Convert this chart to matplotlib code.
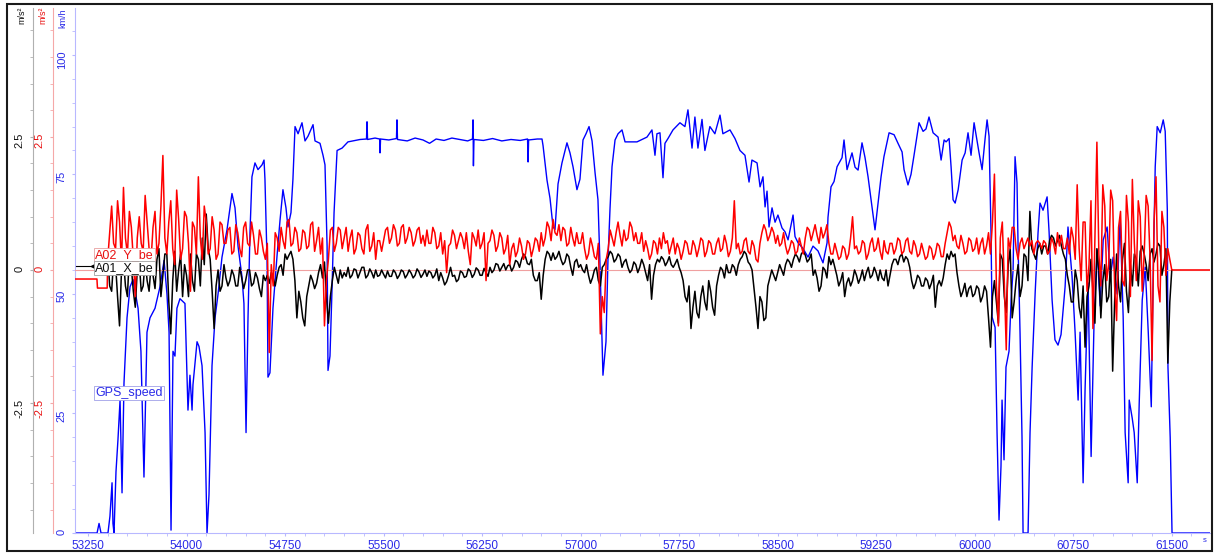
import numpy as np
import matplotlib
matplotlib.use("Agg")
import matplotlib.pyplot as plt
from matplotlib.ticker import MultipleLocator
from matplotlib.patches import Rectangle
from matplotlib.lines import Line2D

plt.rcParams['font.family'] = ['Liberation Sans', 'DejaVu Sans']

# GPS speed (km/h), time in s
gps_t = [
    53151, 53319, 53334, 53349, 53402, 53417, 53433, 53440, 53448, 53463,
    53478, 53494, 53509, 53524, 53547, 53570, 53593, 53631, 53653, 53676,
    53699, 53722, 53760, 53798, 53829, 53851, 53867, 53882, 53897, 53912,
    53927, 53950, 53988, 54011, 54026, 54042, 54049, 54080, 54095, 54118,
    54141, 54156, 54171, 54194, 54217, 54240, 54270, 54308, 54331, 54346,
    54369, 54392, 54422, 54437, 54453, 54468, 54483, 54498, 54521, 54544,
    54575, 54590, 54597, 54613, 54620, 54635, 54658, 54689, 54712, 54734,
    54757, 54772, 54795, 54810, 54826, 54849, 54879, 54902, 54925, 54963,
    54978, 55016, 55039, 55054, 55070, 55077, 55092, 55108, 55123, 55146,
    55184, 55229, 55321, 55370, 55374, 55378, 55435, 55470, 55473, 55477,
    55540, 55598, 55602, 55606, 55680, 55740, 55800, 55850, 55900, 55960,
    56020, 56080, 56140, 56177, 56181, 56184, 56188, 56260, 56330, 56400,
    56470, 56540, 56596, 56600, 56604, 56670, 56706, 56714, 56744, 56767,
    56790, 56805, 56828, 56858, 56896, 56919, 56942, 56972, 56995, 57018,
    57041, 57064, 57087, 57110, 57132, 57148, 57163, 57170, 57193, 57208,
    57224, 57239, 57262, 57285, 57315, 57338, 57429, 57505, 57543, 57566,
    57581, 57604, 57627, 57642, 57665, 57703, 57756, 57794, 57817, 57848,
    57870, 57893, 57924, 57946, 57984, 58022, 58061, 58083, 58137, 58175,
    58213, 58251, 58282, 58304, 58343, 58366, 58388, 58404, 58419, 58434,
    58457, 58480, 58502, 58533, 58556, 58579, 58617, 58632, 58655, 58693,
    58731, 58769, 58807, 58845, 58876, 58883, 58906, 58929, 58952, 58990,
    59005, 59028, 59066, 59089, 59112, 59142, 59165, 59188, 59218, 59241,
    59256, 59287, 59309, 59348, 59386, 59416, 59447, 59462, 59492, 59515,
    59538, 59576, 59607, 59629, 59652, 59683, 59721, 59744, 59767, 59782,
    59805, 59820, 59835, 59851, 59874, 59904, 59927, 59949, 59972, 59995,
    60018, 60033, 60056, 60079, 60094, 60109, 60124, 60132, 60155, 60170,
    60185, 60200, 60208, 60223, 60238, 60261, 60277, 60292, 60307, 60322,
    60330, 60345, 60360, 60368, 60406, 60421, 60437, 60460, 60482, 60497,
    60520, 60551, 60566, 60589, 60611, 60634, 60657, 60688, 60710, 60741,
    60764, 60787, 60802, 60825, 60840, 60863, 60886, 60909, 60932, 60955,
    60978, 61008, 61031, 61054, 61084, 61107, 61130, 61145, 61168, 61176,
    61199, 61214, 61237, 61252, 61275, 61298, 61321, 61344, 61359, 61374,
    61389, 61412, 61435, 61450, 61466, 61471, 61488, 61502, 61791,
]
gps_v = [
    0, 0, 2, 0, 0, 3.5, 10.5, 2, 0, 12.8,
    19.5, 27.8, 8.4, 31.4, 45, 51.5, 53, 47, 38, 11.7,
    42, 45, 47, 51.5, 57, 50, 42, 0.6, 38, 37,
    47, 49, 48, 25.7, 33, 25.7, 31, 40, 39, 35,
    21, 0, 8, 35, 45, 50, 57.7, 63.4, 68, 71,
    68, 60, 53.6, 48, 21, 45, 62.8, 74.5, 77.4, 76,
    77, 78, 74, 57, 32.6, 33.5, 47, 58, 65.5, 71.8,
    68, 64, 67, 74, 85, 83.5, 85.8, 82, 83, 85.4,
    82, 81.5, 79, 77, 60, 34, 37, 51.5, 67, 80,
    80.5, 81.8, 82.3, 82.4, 86, 82.3, 82.6, 82.4, 79.5, 82.4,
    82.2, 82.5, 86.4, 82.3, 82.0, 82.6, 82.2, 81.5, 82.4, 82.1,
    82.6, 82.3, 82.0, 82.4, 86.4, 76.8, 82.3, 82.1, 82.5, 82.0,
    82.3, 82.1, 82.4, 77.6, 82.2, 82.4, 82.4, 81, 73.8, 70,
    64, 63.5, 73, 77.4, 81.6, 79.5, 76.6, 71.8, 74, 82.2,
    83.5, 85, 82, 75.3, 69.7, 55.6, 40.4, 33, 40, 57,
    68, 76.6, 82.2, 83.5, 84.3, 81.8, 81.8, 82.8, 84.3, 79,
    83.5, 83.7, 74.3, 81.5, 82.5, 84.3, 85.8, 85, 88.5, 80.5,
    87, 80.5, 86.5, 80, 85, 83.5, 87.4, 83.5, 84.3, 82.5,
    80, 79, 73.4, 78, 77.4, 72.4, 74.5, 68.2, 71.5, 64,
    68, 65, 66.5, 63.8, 63, 61.3, 66.5, 62, 60.7, 59.5,
    57.7, 60, 59, 56.5, 60.7, 66, 72.4, 73.5, 76.6, 78.5,
    82.2, 76, 79.5, 76.5, 75.9, 81.6, 78.5, 74.5, 68.2, 63.4,
    67, 74.5, 78.7, 83.7, 83.3, 81.5, 79.7, 76, 72.8, 75,
    79, 85.8, 84, 84.5, 87, 83.7, 82.8, 78, 82.2, 81.8,
    82.5, 76.6, 69.7, 69, 71.8, 78, 79.5, 83.7, 79, 85.8,
    82, 79.5, 76, 82.5, 86.4, 83, 62.8, 45.2, 43, 20.9,
    2.7, 14, 27.8, 15.3, 34.7, 38, 48.7, 55, 78.7, 73.2,
    60, 41.8, 20, 0, 0, 21, 34.7, 50.2, 62.8, 69,
    67.5, 70.3, 63, 48.7, 40.4, 39.3, 41.5, 51.5, 64, 53.6,
    42, 27.8, 42, 10.5, 30, 52.3, 16, 45, 59.2, 47.5,
    61.3, 64, 53.6, 57.7, 50, 66, 45.2, 21, 10.5, 27.8,
    24, 21, 10.5, 27, 48.7, 55.6, 42, 26.4, 55, 76.6,
    85, 83.7, 86.4, 84, 67.6, 34.7, 20, 0, 0,
]

# accelerometer channels (m/s2): samples every 30 s from 53400 s to 61500 s,
# plus the in-between samples 15 s later
acc_start, acc_step = 53400, 30
a02_y_be = [
    0.2, 1.2, 0.4, 0.9, 1.55, 0.3, 0.8, -0.5, 1.0, 0.35,
    0.9, 0.2, 1.1, 0.5, 2.15, 0.3, 1.3, 0.1, 0.95, 0.4,
    1.0, -0.4, 0.8, 1.75, 0.2, 0.9, 0.4, 0.75, 0.3, 0.85,
    0.5, 0.8, 0.35, 0.7, 0.25, 0.9, 0.45, 0.65, 0.3, 0.6,
    0.2, -1.55, -0.3, 0.6, 0.8, 0.4, 0.95, 0.5, 0.7, 0.4,
    0.7, 0.45, 0.9, 0.55, 0.3, -1.05, 0.2, 0.8, 0.5, 0.75,
    0.6, 0.35, 0.75, 0.4, 0.65, 0.3, 0.85, 0.45, 0.2, 0.55,
    0.55, 0.8, 0.6, 0.75, 0.5, 0.85, 0.6, 0.7, 0.55, 0.8,
    0.65, 0.75, 0.5, 0.7, 0.45, 0.3, -0.05, 0.5, 0.65, 0.55,
    0.6, 0.7, 0.1, 0.6, 0.75, 0.5, -0.2, 0.55, 0.65, 0.45,
    0.6, 0.4, 0.1, 0.5, 0.35, 0.45, 0.3, 0.5, 0.4, 0.55,
    0.7, 0.6, 0.8, 0.95, 0.65, 0.55, 0.75, 0.5, 0.6, 0.7,
    0.5, 0.4, 0.3, 0.45, 0.2, -1.2, -0.8, 0.4, 0.6, 0.7,
    0.65, 0.75, 0.6, 0.8, 0.7, 0.5, 0.35, 0.4, 0.3, 0.5,
    0.6, 0.7, 0.55, 0.45, 0.3, 0.4, 0.35, 0.5, 0.3, 0.45,
    0.4, 0.55, 0.35, 0.5, 0.3, 0.6, 0.4, 0.5, 0.35, 1.3,
    0.5, 0.35, 0.6, 0.3, 0.45, 0.15, 0.7, 0.75, 0.65, 0.7,
    0.65, 0.5, 0.45, 0.4, 0.5, 0.35, 0.45, 0.6, 0.75, 0.7,
    0.65, 0.8, 0.7, 0.5, 0.3, 0.35, 0.25, 0.4, 0.3, 1.0,
    0.45, 0.35, 0.5, 0.3, 0.6, 0.4, 0.35, 0.55, 0.3, 0.5,
    0.4, 0.55, 0.35, 0.6, 0.3, 0.45, 0.3, 0.35, 0.25, 0.4,
    0.3, 0.45, 0.25, 0.7, 0.8, 0.65, 0.4, 0.5, 0.35, 0.55,
    0.4, 0.3, 0.6, 0.45, 0.3, 1.8, -1.05, 0.9, -1.5, 0.4,
    0.8, 0.2, 0.6, 0.5, 0.45, 0.3, 0.55, 0.4, 0.5, 0.35,
    0.5, 0.7, 0.65, 0.4, 0.3, 0.6, 1.6, -0.2, 0.9, 0.1,
    -1.1, 2.4, -0.3, 1.2, 0.1, 1.3, -0.95, 1.1, -0.3, 0.9,
    1.7, -0.2, 1.0, 0.3, 1.2, -1.7, 1.75, -0.6, 0.8, 0.4,
    0.0,
]
a02_y_be_mid = [
    0.7, 0.5, 1.3, 0.1, 0.6, 1.1, 0.2, 0.6, 0.5, 1.4,
    0.4, 0.8, 0.3, 1.2, 0.6, 0.9, 0.4, 1.5, 0.2, 1.1,
    0.5, 0.9, 0.3, 0.6, 1.2, 0.3, 1.0, 0.2, 0.9, 0.5,
    0.75, 0.3, 0.85, 0.4, 0.8, 0.5, 0.9, 0.3, 0.75, 0.35,
    0.5, 0.1, 0.7, 0.35, 0.55, 0.9, 0.45, 0.8, 0.35, 0.75,
    0.4, 0.85, 0.35, 0.8, 0.6, -0.2, 0.75, 0.35, 0.8, 0.4,
    0.8, 0.6, 0.3, 0.7, 0.4, 0.75, 0.35, 0.7, 0.55, 0.35,
    0.75, 0.5, 0.85, 0.45, 0.8, 0.5, 0.8, 0.45, 0.75, 0.5,
    0.45, 0.5, 0.8, 0.4, 0.7, 0.55, 0.45, 0.75, 0.4, 0.7,
    0.4, 0.35, 0.7, 0.45, 0.4, 0.7, 0.5, 0.75, 0.35, 0.7,
    0.3, 0.65, 0.4, 0.25, 0.6, 0.2, 0.55, 0.25, 0.6, 0.35,
    0.45, 0.9, 0.55, 0.7, 0.85, 0.8, 0.45, 0.8, 0.45, 0.5,
    0.7, 0.2, 0.6, 0.25, 0.5, -0.5, 0.2, 0.75, 0.45, 0.9,
    0.45, 0.55, 0.9, 0.55, 0.5, 0.7, 0.55, 0.2, 0.55, 0.3,
    0.4, 0.5, 0.3, 0.6, 0.5, 0.2, 0.55, 0.3, 0.55, 0.25,
    0.6, 0.25, 0.55, 0.3, 0.5, 0.35, 0.65, 0.25, 0.6, 0.4,
    0.3, 0.55, 0.35, 0.55, 0.2, 0.5, 0.85, 0.55, 0.8, 0.5,
    0.45, 0.7, 0.3, 0.55, 0.3, 0.6, 0.3, 0.8, 0.55, 0.85,
    0.5, 0.6, 0.85, 0.3, 0.5, 0.2, 0.45, 0.2, 0.6, 0.4,
    0.3, 0.55, 0.2, 0.5, 0.35, 0.6, 0.2, 0.35, 0.5, 0.3,
    0.6, 0.3, 0.55, 0.35, 0.55, 0.25, 0.5, 0.2, 0.45, 0.2,
    0.5, 0.25, 0.5, 0.9, 0.55, 0.45, 0.65, 0.3, 0.6, 0.35,
    0.6, 0.5, 0.3, 0.7, 0.9, -0.3, 0.6, -0.2, 0.6, 0.8,
    0.4, 0.5, 0.4, 0.6, 0.55, 0.5, 0.5, 0.55, 0.3, 0.6,
    0.3, 0.45, 0.4, 0.6, 0.8, 0.2, 0.4, 0.9, -0.4, 1.3,
    0.6, 0.3, 1.6, -0.2, 1.5, -0.3, 0.8, -0.2, 1.4, -0.5,
    0.5, 1.3, -0.4, 1.4, 0.2, 0.9, -0.3, 1.1, -0.1, 0.2,
]
a01_x_be = [
    0.3, -0.4, 0.1, -1.05, 0.2, -0.5, 0.05, -0.7, 0.15, -0.3,
    -0.2, 0.1, -0.35, 0.4, -0.1, 0.3, -1.2, 0.35, 0.0, -0.5,
    -0.1, 0.3, -0.4, 0.2, 0.6, 1.05, 0.2, -1.1, 0.0, -0.3,
    -0.15, -0.2, -0.1, -0.3, -0.15, -0.2, 0.0, -0.25, -0.15, -0.5,
    -0.2, -0.25, -0.15, -0.1, 0.1, 0.3, 0.28, 0.2, -0.9, -0.6,
    -1.05, -0.3, -0.2, -0.25, 0.1, 0.15, -1.0, -0.2, -0.1, 0.0,
    -0.05, 0.05, -0.1, 0.0, -0.05, 0.05, -0.1, -0.05, 0.0, -0.1,
    -0.08, -0.02, -0.12, -0.05, -0.1, -0.03, -0.09, -0.06, -0.1, -0.04,
    -0.08, -0.12, -0.05, -0.1, -0.2, -0.15, -0.22, 0.05, -0.1, -0.18,
    -0.05, -0.12, -0.02, -0.08, 0.0, -0.1, -0.05, 0.05, 0.0, 0.1,
    0.05, 0.0, 0.1, 0.05, 0.15, 0.2, 0.25, 0.1, -0.1, -0.2,
    -0.55, 0.2, 0.3, 0.32, 0.25, 0.2, 0.15, 0.25, -0.1, 0.2,
    0.1, -0.05, -0.1, -0.15, 0.05, -0.3, 0.1, 0.25, 0.3, 0.2,
    0.25, 0.15, 0.05, 0.0, 0.1, 0.05, 0.1, -0.2, -0.55, 0.1,
    0.15, 0.2, 0.15, 0.1, 0.12, 0.05, -0.2, -0.6, -1.1, -0.4,
    -0.9, -0.3, -0.75, -0.4, -0.85, -0.1, 0.0, 0.1, -0.05, 0.05,
    0.1, 0.25, 0.3, 0.1, -0.35, -1.1, -0.6, -0.9, -0.15, -0.1,
    -0.05, 0.0, 0.1, 0.15, 0.2, 0.25, 0.3, 0.28, 0.2, -0.1,
    -0.15, -0.3, 0.0, 0.25, 0.2, -0.1, -0.2, -0.5, -0.15, -0.2,
    -0.1, -0.15, -0.2, 0.05, -0.1, -0.05, 0.0, -0.2, -0.3, 0.1,
    0.2, 0.25, 0.15, 0.2, -0.2, -0.25, -0.15, -0.3, -0.2, -0.25,
    -0.7, -0.2, -0.15, 0.3, 0.35, 0.3, -0.3, -0.4, -0.5, -0.3,
    -0.45, -0.35, -0.5, -0.4, -1.45, -0.2, -1.0, 0.2, -0.8, 0.4,
    -0.6, 0.1, -0.3, 0.25, 1.1, 0.3, 0.4, 0.3, 0.45, 0.55,
    0.6, 0.55, 0.45, 0.2, -0.3, -0.6, -0.2, -0.9, -1.45, -0.3,
    -0.4, 0.4, -0.9, 0.1, -0.5, -1.9, 0.3, -0.6, 0.5, -0.8,
    -0.3, 0.2, 0.35, 0.3, -0.2, 0.4, 0.3, 0.45, 0.1, -1.75,
    0.0,
]
a01_x_be_mid = [
    -0.3, 0.2, -0.5, 0.0, -0.3, 0.3, -0.4, 0.0, -0.4, 0.2,
    -0.4, -0.1, 0.2, -0.5, 0.3, -0.6, -0.2, -0.4, 0.3, 0.1,
    -0.5, -0.2, 0.3, -0.3, 0.1, 0.4, -0.4, -0.3, -0.4, 0.1,
    -0.3, 0.0, -0.3, 0.05, -0.35, 0.0, -0.3, -0.05, -0.35, -0.1,
    -0.1, -0.05, -0.3, 0.05, -0.1, 0.2, 0.35, -0.2, -0.4, -0.9,
    -0.5, -0.1, -0.35, -0.05, -0.15, -0.5, -0.5, 0.05, -0.25, -0.15,
    -0.12, -0.15, 0.02, -0.15, 0.05, -0.15, 0.02, -0.15, -0.12, 0.0,
    -0.15, -0.12, 0.0, -0.16, 0.0, -0.15, 0.0, -0.15, 0.02, -0.14,
    0.0, -0.02, -0.15, 0.02, -0.05, -0.28, -0.1, -0.12, -0.22, -0.02,
    -0.14, 0.02, -0.14, 0.04, -0.1, 0.03, -0.12, -0.05, 0.12, -0.02,
    0.12, 0.08, -0.02, 0.18, 0.05, 0.3, 0.12, 0.2, -0.2, -0.05,
    -0.1, 0.35, 0.18, 0.2, 0.35, 0.1, 0.3, 0.05, 0.15, 0.05,
    0.0, 0.1, -0.25, 0.0, -0.2, 0.05, 0.2, 0.35, 0.15, 0.3,
    0.05, 0.2, -0.05, 0.15, -0.05, 0.2, -0.05, 0.1, -0.1, 0.2,
    0.25, 0.08, 0.25, 0.05, 0.2, -0.05, -0.5, -0.3, -0.7, -0.8,
    -0.5, -0.6, -0.2, -0.7, -0.3, 0.05, -0.15, -0.05, 0.1, -0.1,
    0.2, 0.35, 0.15, 0.0, -0.7, -0.5, -0.95, -0.3, 0.0, -0.2,
    0.1, -0.1, 0.2, 0.05, 0.3, 0.15, 0.35, 0.15, 0.3, 0.0,
    -0.4, 0.05, -0.15, 0.1, 0.05, -0.3, -0.05, -0.25, -0.3, 0.0,
    -0.25, 0.0, -0.05, -0.15, 0.05, -0.2, -0.15, 0.0, -0.1, 0.2,
    0.1, 0.3, 0.25, 0.05, -0.35, -0.1, -0.3, -0.15, -0.35, -0.1,
    -0.3, -0.3, 0.1, 0.2, 0.25, -0.05, -0.5, -0.25, -0.35, -0.5,
    -0.3, -0.6, -0.3, -0.9, -0.5, -0.6, 0.3, -0.5, 0.1, -0.9,
    -0.2, -0.5, 0.3, -0.2, 0.4, 0.2, 0.5, 0.45, 0.3, 0.65,
    0.45, 0.65, 0.3, -0.1, -0.6, 0.0, -0.7, -0.3, -0.5, 0.2,
    -1.0, 0.0, -0.2, -0.6, 0.2, -0.6, -0.3, 0.2, -0.4, 0.1,
    0.3, -0.3, 0.45, 0.1, 0.3, 0.15, 0.5, -0.1, 0.4, -0.6,
]
# A02 before the recording starts and after it ends
a02_lead_t = [53151, 53318, 53322, 53396]
a02_lead_v = [-0.17, -0.17, -0.34, -0.34]
a02_tail_t = [61791]
a02_tail_v = [0.0]

time_ticks = [53250, 54000, 54750, 55500, 56250, 57000, 57750,
              58500, 59250, 60000, 60750, 61500]
time_labels = [str(t) for t in time_ticks]
speed_ticks = [0, 25, 50, 75, 100]
speed_labels = ['0', '25', '50', '75', '100']
acc_ticks = [-2.5, 0, 2.5]
acc_labels = ['-2.5', '0', '2.5']


def interleave(main, mid):
    out = np.empty(len(main) + len(mid))
    out[0::2] = main
    out[1::2] = mid
    return out


acc_t = acc_start + (acc_step / 2) * np.arange(2 * len(a01_x_be) - 1)
x_vals = interleave(a01_x_be, a01_x_be_mid)
y_vals = interleave(a02_y_be, a02_y_be_mid)
red_t = np.concatenate([a02_lead_t, acc_t, a02_tail_t])
red_v = np.concatenate([a02_lead_v, y_vals, a02_tail_v])

W, H = 1215, 553
fig = plt.figure(figsize=(W / 100, H / 100), dpi=100)
pos = [75 / W, 20 / H, 1135 / W, 525 / H]

ax_v = fig.add_axes(pos)
ax_x = fig.add_axes(pos, sharex=ax_v, facecolor='none')
ax_y = fig.add_axes(pos, sharex=ax_v, facecolor='none')

blue_ax = '#b8b8ff'
red_ax = '#f5a8a8'
gray_ax = '#b0b0b0'

for a in (ax_v, ax_x, ax_y):
    a.spines['top'].set_visible(False)
    a.spines['right'].set_visible(False)
for a in (ax_x, ax_y):
    a.spines['bottom'].set_visible(False)
    a.xaxis.set_visible(False)

ax_v.set_xlim(53151, 61791)
ax_v.set_ylim(0, 109.8)
ax_x.set_ylim(-4.94, 4.92)
ax_y.set_ylim(-4.94, 4.92)

# km/h axis
ax_v.spines['left'].set_color(blue_ax)
ax_v.spines['bottom'].set_color(blue_ax)
ax_v.set_yticks(speed_ticks, speed_labels)
ax_v.yaxis.set_minor_locator(MultipleLocator(5))
ax_v.tick_params(axis='y', which='both', color=blue_ax, labelcolor='#2a2ae8',
                 labelsize=8, labelrotation=90, length=2, pad=4)
ax_v.set_xticks(time_ticks, time_labels)
ax_v.xaxis.set_minor_locator(MultipleLocator(150))
ax_v.tick_params(axis='x', which='both', color=blue_ax, labelcolor='#2a2ae8',
                 labelsize=8.5, length=2, pad=3)

# m/s2 axes (red and black), offset to the left
ax_y.spines['left'].set_position(('outward', 22 * 0.72))
ax_y.spines['left'].set_color(red_ax)
ax_x.spines['left'].set_position(('outward', 42 * 0.72))
ax_x.spines['left'].set_color(gray_ax)
for a, c, lc in ((ax_y, red_ax, '#e81010'), (ax_x, gray_ax, '#111111')):
    a.set_yticks(acc_ticks, acc_labels)
    a.yaxis.set_minor_locator(MultipleLocator(0.5))
    a.tick_params(axis='y', which='both', color=c, labelcolor=lc,
                  labelsize=8, labelrotation=90, length=2, pad=4)

ax_x.axhline(0, color='#f0a0a0', lw=0.8, zorder=1)

ax_v.plot(gps_t, gps_v, color='#0000ff', lw=1.0)
ax_x.plot(acc_t, x_vals, color='black', lw=1.1, zorder=2)
ax_y.plot(red_t, red_v, color='#ff0000', lw=1.1)

# unit labels on top of the axis lines
fig.text(22 / W, 1 - 7 / H, 'm/s²', rotation=90, ha='center', va='top', fontsize=6.5, color='#111111')
fig.text(43 / W, 1 - 7 / H, 'm/s²', rotation=90, ha='center', va='top', fontsize=6.5, color='#e81010')
fig.text(63 / W, 1 - 8 / H, 'km/h', rotation=90, ha='center', va='top', fontsize=6.5, color='#2a2ae8')
fig.text(1205 / W, 1 - 541 / H, 's', ha='center', va='center', fontsize=5.5, color='#2a2ae8')

# channel name tags
fig.text(95 / W, 1 - 255 / H, 'A02_Y_be', ha='left', va='center', fontsize=9, color='#e81010',
         bbox=dict(boxstyle='square,pad=0.08', fc='white', ec='#e8a0a0', lw=0.6))
fig.text(95 / W, 1 - 268 / H, 'A01_X_be', ha='left', va='center', fontsize=9, color='#111111',
         bbox=dict(boxstyle='square,pad=0.08', fc='white', ec='#a0a0a0', lw=0.6))
fig.text(95 / W, 1 - 393 / H, 'GPS_speed', ha='left', va='center', fontsize=9, color='#2a2ae8',
         bbox=dict(boxstyle='square,pad=0.08', fc='white', ec='#a0a0e8', lw=0.6))
fig.add_artist(Line2D([76 / W, 93 / W], [1 - 266 / H, 1 - 266 / H], transform=fig.transFigure,
                      color='black', lw=0.8, marker='<', markevery=[1], markersize=3))

# outer frame
fig.add_artist(Rectangle((7 / W, 2 / H), 1205 / W, 547 / H, transform=fig.transFigure,
                         fill=False, ec='#1a1a1a', lw=1.5))

fig.savefig('out.png', dpi=100)
